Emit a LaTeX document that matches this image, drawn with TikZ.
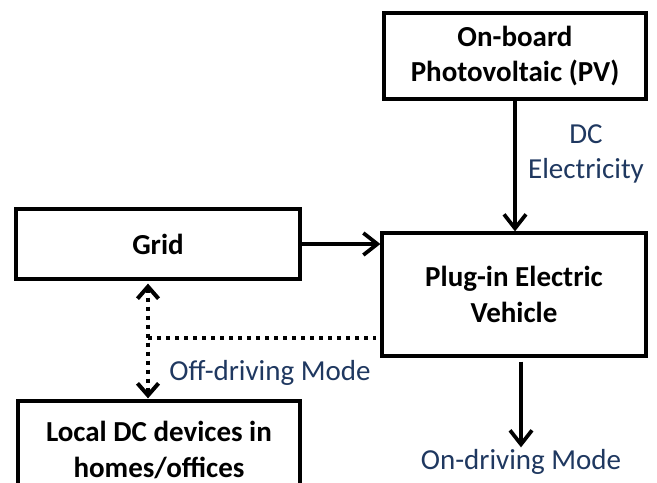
\documentclass[tikz,border=0pt]{standalone}
\usepackage{fontspec}
\setmainfont{Carlito}
\usepackage{tikz}
\usetikzlibrary{
    positioning,
    arrows.meta
}
\definecolor{labelblue}{RGB}{31,56,96}
\tikzset{
    >={Straight Barb[length=0.28cm,width=0.44cm]},
    block/.style={
        draw,
        line width=0.065cm,
        rectangle,
        align=center,
        font=\fontsize{16.5}{20}\selectfont\bfseries
    },
    flowlabel/.style={
        text=labelblue,
        align=center,
        inner sep=1pt,
        font=\fontsize{16.5}{20}\selectfont
    },
    flow/.style={
        ->,
        line width=0.075cm
    },
    dotflow/.style={
        line width=0.08cm,
        dash pattern=on 0.08cm off 0.1cm
    }
}

\begin{document}
\begin{tikzpicture}

    \useasboundingbox (0,0) rectangle (13.14,-9.64);

    % Blocks
    \node[block, minimum width=5.24cm, minimum height=1.72cm] (pv)    at (10.30,-1.12) {On-board\\Photovoltaic (PV)};
    \node[block, minimum width=5.68cm, minimum height=1.40cm] (grid)  at (3.16,-4.88)  {Grid};
    \node[block, minimum width=5.28cm, minimum height=2.46cm] (pev)   at (10.28,-5.89) {Plug-in Electric\\Vehicle};
    \node[block, minimum width=5.64cm, minimum height=1.96cm] (local) at (3.18,-9.00)  {Local DC devices in\\homes/offices};

    % Labels
    \node[flowlabel] (dclabel)  at (11.72,-3.08) {DC\\Electricity};
    \node[flowlabel] (offdrive) at (5.40,-7.46)  {Off-driving Mode};
    \node[flowlabel] (ondrive)  at (10.42,-9.24) {On-driving Mode};

    \coordinate (tap) at (2.96,-6.76);

    % Connectors
    \draw[flow] (pv.south) -- (pv.south |- pev.north);
    \draw[flow] (grid.east) -- (grid.east -| pev.west);
    \draw[flow, shorten <=0.08cm] (pev.south -| ondrive) -- (ondrive.north);

    % Off-driving
    \draw[dotflow, <->, >={Straight Barb[length=0.24cm,width=0.42cm]},
          shorten <=0.06cm, shorten >=0.02cm]
        (tap |- grid.south) -- (tap |- local.north);
    \draw[dotflow] (tap) -- ([xshift=-0.08cm]tap -| pev.west);

\end{tikzpicture}
\end{document}
